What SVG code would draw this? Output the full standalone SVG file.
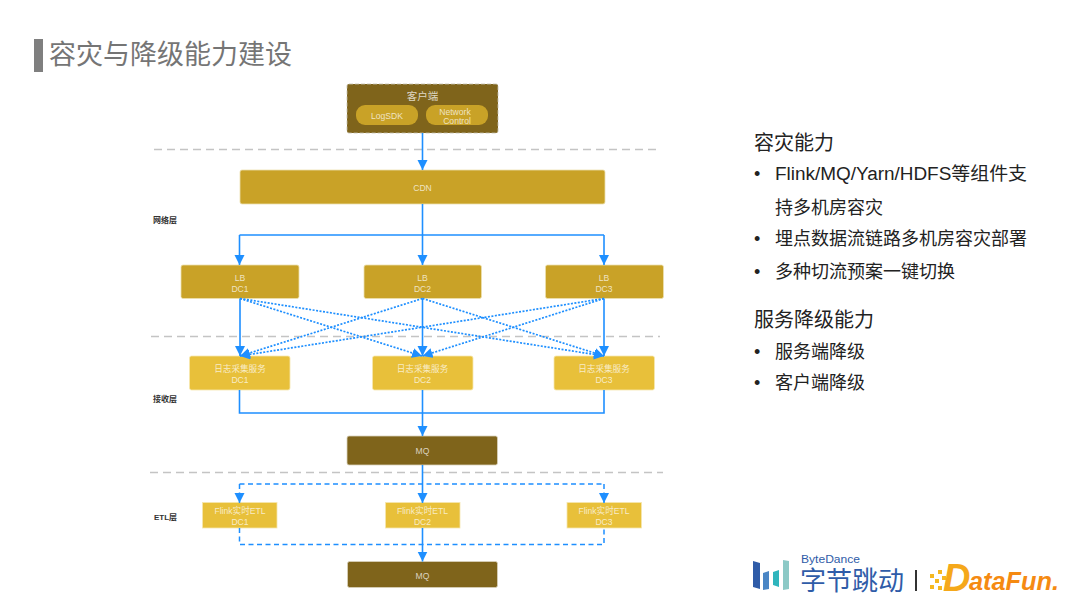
<svg xmlns="http://www.w3.org/2000/svg" width="1080" height="608" viewBox="0 0 1080 608">
<style>
text{font-family:"Liberation Sans","Noto Sans CJK SC",sans-serif}
.n{fill:#fff;fill-opacity:.72;font-size:8.600px;text-anchor:middle}
.dark{fill:#7f641b;stroke:#d9d2bd;stroke-width:.8}
.gold{fill:#c9a227;stroke:#ecdfae;stroke-width:.8}
.pill{fill:#c9a227}
.lite{fill:#e8c03a;stroke:#f6e7ae;stroke-width:.8}
.div{stroke:#c4c4c4;stroke-width:1.400;stroke-dasharray:8 5;fill:none}
.s{stroke:#1e8fff;stroke-width:1.600;fill:none}
.solid-arrow{marker-end:url(#a)}
.dot{stroke:#1e8fff;stroke-width:1.700;fill:none;stroke-dasharray:2 1.500;marker-end:url(#a)}
.dash{stroke:#1e8fff;stroke-width:1.500;fill:none;stroke-dasharray:5 3.500}
.lay{fill:#333;font-size:8px;font-weight:bold}
.h{fill:#222;font-size:20px}
.b{fill:#222;font-size:18px}
</style>
<defs>
<marker id="a" markerUnits="userSpaceOnUse" markerWidth="12" markerHeight="12" refX="10" refY="5" orient="auto"><path d="M0 0L10 5L0 10Z" fill="#1e8fff"/></marker>
</defs>
<rect width="1080" height="608" fill="#fff"/>
<g id="title">
<rect x="34" y="39" width="9" height="33" fill="#7f7f7f"/>
<text x="49" y="64" font-size="27" fill="#757575">容灾与降级能力建设</text>
</g>
<g id="dividers">
<path class="div" d="M154 149.500H658"/>
<path class="div" d="M151 336.500H660"/>
<path class="div" d="M150 472.500H663"/>
</g>
<g id="layer-labels">
<text class="lay" x="153" y="223">网络层</text>
<text class="lay" x="153" y="402">接收层</text>
<text class="lay" x="154" y="520">ETL层</text>
</g>
<g id="client">
<rect x="347" y="84" width="151" height="49" rx="2" fill="#7f641b"/>
<rect x="347" y="84" width="151" height="49" rx="2" fill="none" stroke="#c4c0b0" stroke-width=".8" stroke-dasharray="4 2"/>
<text x="422.500" y="100" fill="#fff" fill-opacity=".75" font-size="10.500" text-anchor="middle">客户端</text>
<rect class="pill" x="356" y="105" width="62" height="20" rx="9"/>
<text class="n" x="387" y="119">LogSDK</text>
<rect class="pill" x="426" y="105" width="62" height="20" rx="9"/>
<text class="n" x="455" y="114.500">Network</text>
<text class="n" x="457" y="124">Control</text>
</g>
<g id="cdn"><rect class="gold" x="240" y="170" width="365" height="34" rx="2"/><text class="n" x="422.500" y="191">CDN</text></g>
<g id="lb1"><rect class="gold" x="181" y="265" width="118" height="33.500" rx="2"/><text class="n" x="240" y="281">LB</text><text class="n" x="240" y="292">DC1</text></g>
<g id="lb2"><rect class="gold" x="364" y="265" width="117.500" height="33.500" rx="2"/><text class="n" x="422.500" y="281">LB</text><text class="n" x="422.500" y="292">DC2</text></g>
<g id="lb3"><rect class="gold" x="545.500" y="265" width="118" height="33.500" rx="2"/><text class="n" x="604" y="281">LB</text><text class="n" x="604" y="292">DC3</text></g>
<g id="svc1"><rect class="lite" x="189.500" y="356" width="100.500" height="34" rx="2"/><text class="n" x="240" y="372">日志采集服务</text><text class="n" x="240" y="383">DC1</text></g>
<g id="svc2"><rect class="lite" x="372.500" y="356" width="100.500" height="34" rx="2"/><text class="n" x="422.500" y="372">日志采集服务</text><text class="n" x="422.500" y="383">DC2</text></g>
<g id="svc3"><rect class="lite" x="554" y="356" width="100.500" height="34" rx="2"/><text class="n" x="604" y="372">日志采集服务</text><text class="n" x="604" y="383">DC3</text></g>
<g id="mq1"><rect class="dark" x="347" y="436" width="150.500" height="29" rx="2"/><text class="n" x="422.500" y="454">MQ</text></g>
<g id="etl1"><rect class="lite" x="202.500" y="502.500" width="74.500" height="25.500"/><text class="n" x="240" y="514">Flink实时ETL</text><text class="n" x="240" y="525">DC1</text></g>
<g id="etl2"><rect class="lite" x="385.500" y="502.500" width="74.500" height="25.500"/><text class="n" x="422.500" y="514">Flink实时ETL</text><text class="n" x="422.500" y="525">DC2</text></g>
<g id="etl3"><rect class="lite" x="567" y="502.500" width="74.500" height="25.500"/><text class="n" x="604" y="514">Flink实时ETL</text><text class="n" x="604" y="525">DC3</text></g>
<g id="mq2"><rect class="dark" x="347.500" y="561.500" width="150" height="26" rx="2"/><text class="n" x="422.500" y="579">MQ</text></g>
<g id="connectors">
<path class="s solid-arrow" d="M422.500 133V170"/>
<path class="s" d="M239.500 235H604"/>
<path class="s solid-arrow" d="M422.500 204V265"/>
<path class="s solid-arrow" d="M239.500 235V265"/>
<path class="s solid-arrow" d="M604 235V265"/>
<path class="s solid-arrow" d="M240 298.500V356"/>
<path class="s solid-arrow" d="M422.500 298.500V356"/>
<path class="s solid-arrow" d="M604 298.500V356"/>
<path class="dot" d="M240 298.500L422 356"/>
<path class="dot" d="M240 298.500L604 356"/>
<path class="dot" d="M422.500 298.500L240 356"/>
<path class="dot" d="M422.500 298.500L604 356"/>
<path class="dot" d="M604 298.500L240 356"/>
<path class="dot" d="M604 298.500L422.500 356"/>
<path class="s" d="M239.500 390V413H604V390"/>
<path class="s solid-arrow" d="M422.500 390V436"/>
<path class="s solid-arrow" d="M422.500 465V503"/>
<path class="dash" d="M239.500 484H604"/>
<path class="dash solid-arrow" d="M239.500 484V503"/>
<path class="dash solid-arrow" d="M604 484V503"/>
<path class="dash" d="M239.500 528V544.500H604V528"/>
<path class="s solid-arrow" d="M422.500 528V561.500"/>
</g>
<g id="side-text">
<text class="h" x="754" y="150">容灾能力</text>
<text class="b" x="754" y="180">•</text>
<text class="b" x="775" y="180" textLength="252" lengthAdjust="spacingAndGlyphs">Flink/MQ/Yarn/HDFS等组件支</text>
<text class="b" x="775" y="214">持多机房容灾</text>
<text class="b" x="754" y="245">•</text>
<text class="b" x="775" y="245">埋点数据流链路多机房容灾部署</text>
<text class="b" x="754" y="278">•</text>
<text class="b" x="775" y="278">多种切流预案一键切换</text>
<text class="h" x="754" y="327">服务降级能力</text>
<text class="b" x="754" y="358">•</text>
<text class="b" x="775" y="358">服务端降级</text>
<text class="b" x="754" y="389">•</text>
<text class="b" x="775" y="389">客户端降级</text>
</g>
<g id="logos">
<path d="M753 561L760 563V589L753 587Z" fill="#2f5ca8"/>
<path d="M763 573L769 571V589L763 590Z" fill="#4a86c5"/>
<path d="M773 572L779 570V587L773 585Z" fill="#2fb5bd"/>
<path d="M783 560L789 561V589L783 590Z" fill="#8cc9c6"/>
<text x="801" y="563" font-size="11.500" fill="#2f5ca8" textLength="59" lengthAdjust="spacingAndGlyphs">ByteDance</text>
<text x="800" y="590" font-size="26" fill="#2f5ca8">字节跳动</text>
<rect x="915" y="570" width="2" height="21" fill="#333"/>
<g fill="#f5b81f">
<rect x="930" y="574" width="4" height="4"/><rect x="938" y="570" width="4" height="4"/><rect x="935" y="579" width="4" height="4"/><rect x="942" y="576" width="4" height="4"/><rect x="930" y="585" width="4" height="4"/><rect x="938" y="586" width="4" height="4"/><rect x="945" y="583" width="4" height="4"/>
</g>
<text x="943" y="591" font-size="38" font-weight="bold" font-style="italic" fill="#f5a81a">D</text>
<text x="969" y="590" font-size="25" font-weight="bold" font-style="italic" fill="#f58a12" textLength="90" lengthAdjust="spacingAndGlyphs">ataFun.</text>
</g>
</svg>
